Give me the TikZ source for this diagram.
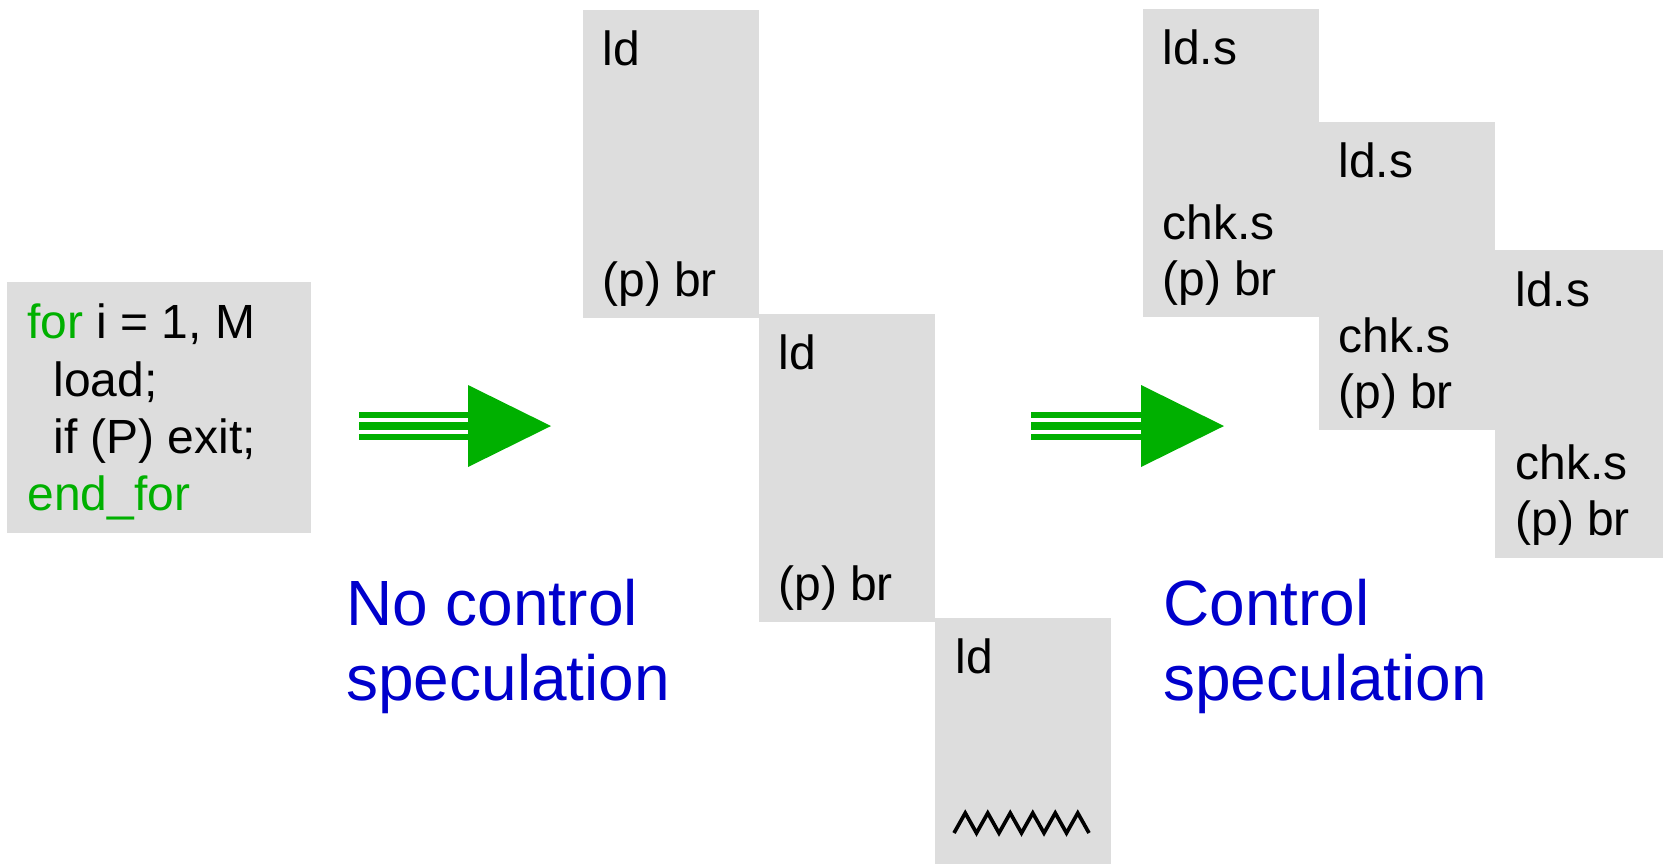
\documentclass[tikz,border=0pt]{standalone}
\usepackage{fontspec}
\setmainfont{Liberation Sans}
\definecolor{boxgray}{HTML}{DDDDDD}
\definecolor{arrowgreen}{HTML}{00B000}
\definecolor{labelblue}{HTML}{0000CC}
\tikzset{
	slot/.style={rectangle, fill=boxgray, minimum width=3.52cm, minimum height=6.16cm, inner sep=0pt},
	instr/.style={anchor=base west, inner sep=0pt, font=\fontsize{27.3pt}{32pt}\selectfont},
	caption/.style={anchor=base west, inner sep=0pt, text=labelblue, font=\fontsize{36.4pt}{42pt}\selectfont},
	bar/.style={draw=arrowgreen, line width=#1},
}
\begin{document}
\begin{tikzpicture}
		
		\useasboundingbox (0,0) rectangle (33.26,-17.28);
		
		%Source loop
		\node (loopBox) at (3.18,-8.15) [rectangle, fill=boxgray, minimum width=6.08cm, minimum 
		height=5.02cm, inner sep=0pt]{};
		\node (loopHead) at (0.54,-6.76) [instr]{\textcolor{arrowgreen}{for} i = 1, M};
		\node (loopLoad) at (1.06,-7.92) [instr]{load;};
		\node (loopExit) at (1.06,-9.06) [instr]{if (P) exit;};
		\node (loopEnd) at (0.54,-10.20) [instr, text=arrowgreen]{end\_for};
		
		%First arrow
		\coordinate (firstTail) at (7.18,-8.52);
		\coordinate (firstBase) at (9.36,-8.52);
		\draw[bar=3pt] ([yshift=0.22cm]firstTail) -- ([yshift=0.22cm]firstBase);
		\draw[bar=4.7pt] (firstTail) -- (firstBase);
		\draw[bar=3pt] ([yshift=-0.22cm]firstTail) -- ([yshift=-0.22cm]firstBase);
		\fill[arrowgreen] ([yshift=0.82cm]firstBase) -- ([xshift=1.66cm]firstBase) -- 
		([yshift=-0.82cm]firstBase) -- cycle;
		
		%No control speculation
		\node (firstSlot1) at (13.42,-3.27) [slot]{};
		\node (firstSlot2) at (16.94,-9.36) [slot]{};
		\node (firstSlot3) at (20.46,-14.82) [slot, minimum height=4.92cm]{};
		
		\node (ld1) at (12.04,-1.30) [instr]{ld};
		\node (br1) at (12.04,-5.92) [instr]{(p) br};
		\node (ld2) at (15.56,-7.38) [instr]{ld};
		\node (br2) at (15.56,-12.00) [instr]{(p) br};
		\node (ld3) at (19.10,-13.46) [instr]{ld};
		
		\draw[line width=2.1pt] (19.08,-16.66) 
		\foreach \k in {1,...,6}{ -- ++(0.225,0.4) -- ++(0.225,-0.4)};
		
		\node (noSpecA) at (6.92,-12.50) [caption]{No control};
		\node (noSpecB) at (6.92,-14.00) [caption]{speculation};
		
		%Second arrow
		\coordinate (secondTail) at (20.62,-8.52);
		\coordinate (secondBase) at (22.82,-8.52);
		\draw[bar=3pt] ([yshift=0.22cm]secondTail) -- ([yshift=0.22cm]secondBase);
		\draw[bar=4.7pt] (secondTail) -- (secondBase);
		\draw[bar=3pt] ([yshift=-0.22cm]secondTail) -- ([yshift=-0.22cm]secondBase);
		\fill[arrowgreen] ([yshift=0.82cm]secondBase) -- ([xshift=1.66cm]secondBase) -- 
		([yshift=-0.82cm]secondBase) -- cycle;
		
		%Control speculation
		\node (secondSlot1) at (24.62,-3.26) [slot]{};
		\node (secondSlot2) at (28.14,-5.52) [slot]{};
		\node (secondSlot3) at (31.66,-8.07) [slot]{};
		
		\node (lds1) at (23.24,-1.28) [instr]{ld.s};
		\node (chk1) at (23.24,-4.78) [instr]{chk.s};
		\node (brs1) at (23.24,-5.90) [instr]{(p) br};
		\node (lds2) at (26.76,-3.54) [instr]{ld.s};
		\node (chk2) at (26.76,-7.04) [instr]{chk.s};
		\node (brs2) at (26.76,-8.16) [instr]{(p) br};
		\node (lds3) at (30.30,-6.12) [instr]{ld.s};
		\node (chk3) at (30.30,-9.58) [instr]{chk.s};
		\node (brs3) at (30.30,-10.70) [instr]{(p) br};
		
		\node (specA) at (23.26,-12.50) [caption]{Control};
		\node (specB) at (23.26,-14.00) [caption]{speculation};
		
		\end{tikzpicture}
\end{document}
